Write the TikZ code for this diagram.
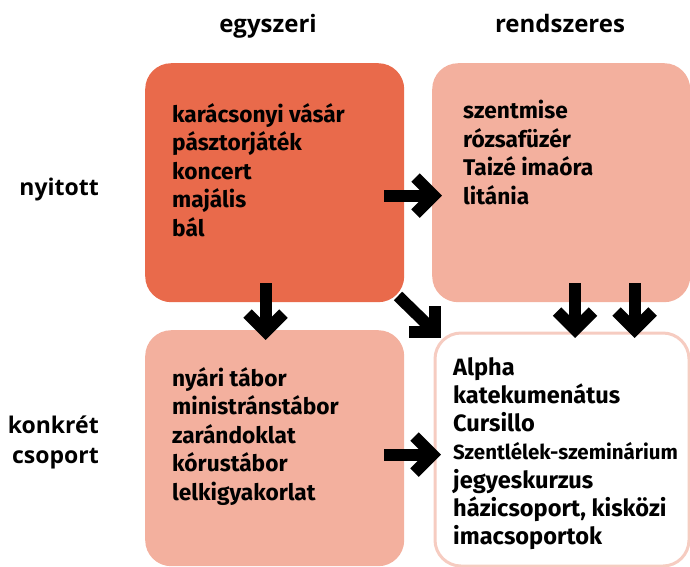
\documentclass[tikz,border=0pt]{standalone}
\usepackage{fontspec}
\setmainfont{Fira Sans}
\newfontfamily\labfont{Open Sans}
\definecolor{strong}{RGB}{233,106,75}
\definecolor{soft}{RGB}{243,176,158}
\definecolor{rim}{RGB}{246,204,193}
\tikzset{
  cell/.style={rectangle, rounded corners=26pt, inner sep=0pt, anchor=north west},
  celltext/.style={anchor=north west, inner sep=0pt, align=left,
    font=\bfseries\fontsize{22.7}{28.5}\selectfont},
  head/.style={anchor=base, inner sep=0pt, font=\labfont\bfseries\fontsize{24}{28}\selectfont},
  side/.style={anchor=base east, inner sep=0pt, align=right,
    font=\labfont\bfseries\fontsize{23}{30}\selectfont},
  shaft/.style={line width=12pt, line cap=butt},
  tip/.style={line width=12pt, line cap=butt, line join=miter},
}
\newcommand{\fs}{\rule{0pt}{18pt}}
\begin{document}
\begin{tikzpicture}[x=1pt,y=-1pt]
\useasboundingbox (0,0) rectangle (690,566);
% boxes
\node[cell, fill=strong, minimum width=259pt, minimum height=239pt] (b1) at (145,63) {};
\node[cell, fill=soft, minimum width=258pt, minimum height=239pt] (b2) at (432,63) {};
\node[cell, fill=soft, minimum width=259pt, minimum height=236pt] (b3) at (145,330) {};
\node[cell, draw=rim, line width=3pt, fill=white, minimum width=254pt, minimum height=233pt] (b4) at (433.5,331.5) {};
% headers
\node[head] (h1) at (268,32) {egyszeri};
\node[head] (h2) at (560,32) {rendszeres};
\node[side] (s1) at (99,195) {nyitott};
\node[side] (s2) at (99,463) {konkrét\\csoport};
% texts
\node[celltext] (t1) at (172,103) {\fs karácsonyi vásár\\pásztorjáték\\koncert\\majális\\bál};
\node[celltext] (t2) at (463,100) {\fs szentmise\\rózsafüzér\\Taizé imaóra\\litánia};
\node[celltext] (t3) at (172,367) {\fs nyári tábor\\ministránstábor\\zarándoklat\\kórustábor\\lelkigyakorlat};
\node[celltext, font=\bfseries\fontsize{23.6}{28.2}\selectfont] (t4) at (453,357) {\fs Alpha\\katekumenátus\\Cursillo\\{\fontsize{20.5}{28.2}\selectfont Szentlélek-szeminárium}\\jegyeskurzus\\házicsoport, kisközi\\imacsoportok};
% arrows
\coordinate (a1s) at (384,195.5); \coordinate (a1v) at (433.5,195.5);
\draw[shaft] (a1s) -- (a1v);
\draw[tip] ([shift={(-18,-18)}]a1v) -- (a1v) -- ([shift={(-18,18)}]a1v);
\coordinate (a5s) at (384,454.5); \coordinate (a5v) at (432.5,454.5);
\draw[shaft] (a5s) -- (a5v);
\draw[tip] ([shift={(-18,-18)}]a5v) -- (a5v) -- ([shift={(-18,18)}]a5v);
\coordinate (a3s) at (265.5,283); \coordinate (a3v) at (265.5,331.5);
\draw[shaft] (a3s) -- (a3v);
\draw[tip] ([shift={(-18,-18)}]a3v) -- (a3v) -- ([shift={(18,-18)}]a3v);
\coordinate (a4s) at (575,283); \coordinate (a4v) at (575,329.5);
\draw[shaft] (a4s) -- (a4v);
\draw[tip] ([shift={(-18,-18)}]a4v) -- (a4v) -- ([shift={(18,-18)}]a4v);
\coordinate (a6s) at (634.5,283); \coordinate (a6v) at (634.5,329.5);
\draw[shaft] (a6s) -- (a6v);
\draw[tip] ([shift={(-18,-18)}]a6v) -- (a6v) -- ([shift={(18,-18)}]a6v);
\coordinate (a2s) at (398,296); \coordinate (a2v) at (435,332);
\draw[shaft] (a2s) -- (a2v);
\draw[tip] ([shift={(-26,0)}]a2v) -- (a2v) -- ([shift={(0,-26)}]a2v);
\end{tikzpicture}
\end{document}
